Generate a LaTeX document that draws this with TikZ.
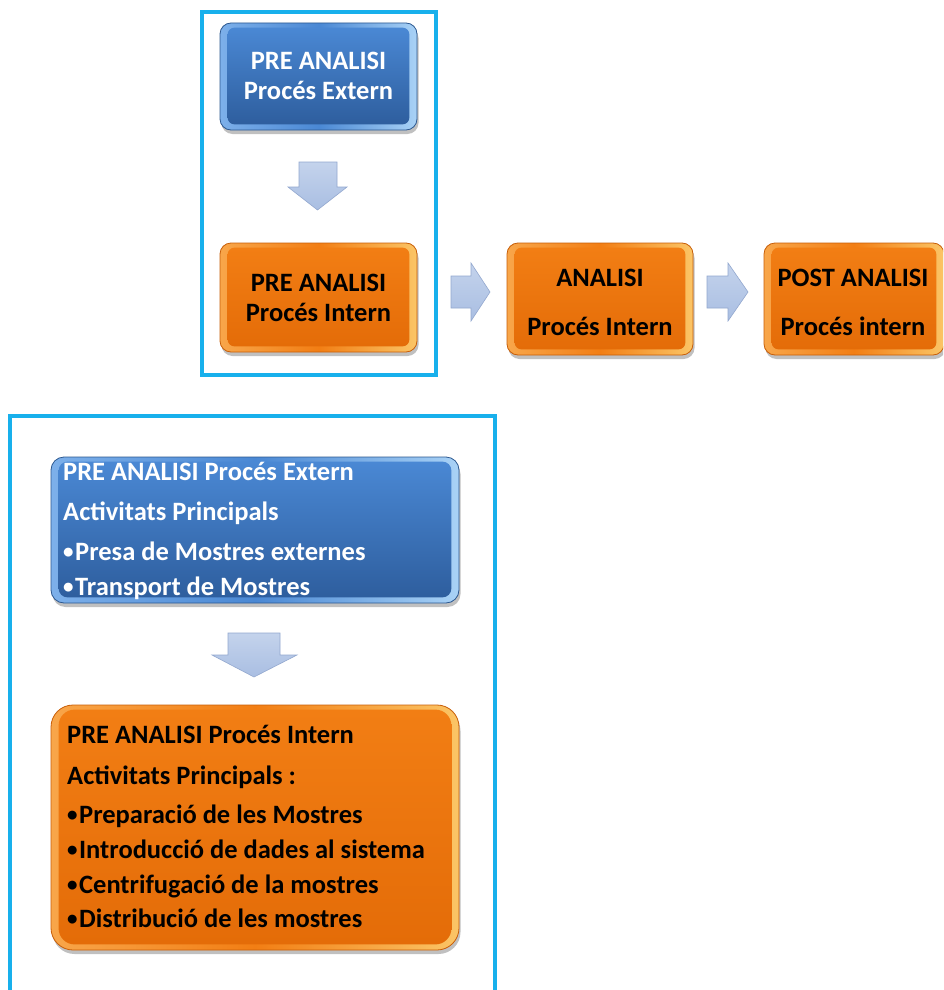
\documentclass[tikz,border=0pt]{standalone}
\usepackage{fontspec}
\setmainfont{Carlito}
\usetikzlibrary{shadows,calc}

\definecolor{frameC}{HTML}{18B0EC}
\definecolor{blueT}{HTML}{4A88D4}
\definecolor{blueB}{HTML}{2E5E9E}
\definecolor{blueSide}{HTML}{7DB0EA}
\definecolor{blueSideR}{HTML}{A9D2F6}
\definecolor{blueEdge}{HTML}{2C5890}
\definecolor{orT}{HTML}{F27E14}
\definecolor{orB}{HTML}{E46C08}
\definecolor{orSide}{HTML}{F8A64A}
\definecolor{orSideR}{HTML}{FBC566}
\definecolor{orEdge}{HTML}{C85E08}
\definecolor{arrowT}{HTML}{C4D3EC}
\definecolor{arrowB}{HTML}{A9BEE2}
\definecolor{arrowEdge}{HTML}{93A8CF}

\tikzset{
  frame/.style={draw=frameC, line width=3.5pt},
  boxshadow/.style={drop shadow={shadow xshift=1.5pt, shadow yshift=-4pt, opacity=.35, fill=black!70}},
  bluebox/.style={rounded corners=11pt, draw=blueEdge, line width=.8pt, inner sep=0pt,
    left color=blueSide, right color=blueSideR, middle color=blueT, boxshadow},
  orbox/.style={rounded corners=11pt, draw=orEdge, line width=.8pt, inner sep=0pt,
    left color=orSide, right color=orSideR, middle color=orT, boxshadow},
  bluepanel/.style={rounded corners=7pt, top color=blueT, bottom color=blueB},
  orpanel/.style={rounded corners=7pt, top color=orT, bottom color=orB},
  blockarrow/.style={draw=arrowEdge, line width=.6pt, top color=arrowT, bottom color=arrowB, line join=miter},
  boxtext/.style={font=\bfseries\fontsize{26.5}{30}\selectfont, align=center, inner sep=0pt},
  linetext/.style={font=\bfseries\fontsize{26.5}{30}\selectfont, anchor=base west, inner sep=0pt},
}

% draws the inner face of a bevelled box
\newcommand{\bevelface}[3][7pt]{%
  \path[#3, rounded corners=#1] ($(#2.north west)+(8,5)$) rectangle ($(#2.south east)+(-8,-6)$);}
% small list bullet
\newcommand{\blt}{{\fontsize{21}{21}\selectfont\raisebox{1.2pt}{•}}\hspace{1.5pt}}

\begin{document}
\begin{tikzpicture}[x=1pt,y=-1pt]
\useasboundingbox (0,0) rectangle (943,990);
\clip (0,0) rectangle (943,990);
\fill[white] (0,0) rectangle (943,990);

% ---------- frames ----------
\draw[frame] (202,12) rectangle (436,375);
\draw[frame] (10,416) rectangle (495,1010);

% ---------- top flow ----------
\node[bluebox, minimum width=197pt, minimum height=107pt] (ext) at (318.5,76.5) {};
\bevelface{ext}{bluepanel}
\node[boxtext, text=white] (extT) at (318.5,76) {PRE ANALISI\\Procés Extern};

\node[orbox, minimum width=197pt, minimum height=109pt] (int) at (318.5,297.5) {};
\bevelface{int}{orpanel}
\node[boxtext, text=black] (intT) at (318.5,297.5) {PRE ANALISI\\Procés Intern};

\node[orbox, minimum width=186pt, minimum height=112pt] (ana) at (600,299) {};
\bevelface{ana}{orpanel}
\node[boxtext, text=black] (anaT) at (600,302) {ANALISI\\[19pt]Procés Intern};

\node[orbox, minimum width=180pt, minimum height=112pt] (post) at (854,299) {};
\bevelface{post}{orpanel}
\node[boxtext, text=black] (postT) at (853,302) {POST ANALISI\\[19pt]Procés intern};

% block arrows between the steps
\path[blockarrow] (299,162) -- (337,162) -- (337,187) -- (347,187) -- (317.5,210)
  -- (288,187) -- (299,187) -- cycle;
\path[blockarrow] (451,276) -- (471,276) -- (471,263) -- (490,292) -- (471,321)
  -- (471,308) -- (451,308) -- cycle;
\path[blockarrow] (707,276) -- (728,276) -- (728,263) -- (748,292) -- (728,321)
  -- (728,308) -- (707,308) -- cycle;

% ---------- detailed activities ----------
\node[bluebox, minimum width=408pt, minimum height=146pt, rounded corners=13pt] (extD) at (255,530) {};
\bevelface[9pt]{extD}{bluepanel}
\begin{scope}[text=white]
\node[linetext] (e1) at (63,480) {PRE ANALISI Procés Extern};
\node[linetext] (e2) at (63,520) {Activitats Principals};
\node[linetext] (e3) at (63,560) {\blt Presa de Mostres externes};
\node[linetext] (e4) at (63,595) {\blt Transport de Mostres};
\end{scope}

\path[blockarrow] (228,633) -- (280,633) -- (280,655) -- (297,655) -- (254,677)
  -- (212,655) -- (228,655) -- cycle;

\node[orbox, minimum width=408pt, minimum height=245pt, rounded corners=22pt] (intD) at (255,827.5) {};
\bevelface[16pt]{intD}{orpanel}
\node[linetext] (i1) at (67,743) {PRE ANALISI Procés Intern};
\node[linetext] (i2) at (67,784) {Activitats Principals :};
\node[linetext] (i3) at (67,823) {\blt Preparació de les Mostres};
\node[linetext] (i4) at (67,858) {\blt Introducció de dades al sistema};
\node[linetext] (i5) at (67,893) {\blt Centrifugació de la mostres};
\node[linetext] (i6) at (67,927) {\blt Distribució de les mostres};
\end{tikzpicture}
\end{document}
